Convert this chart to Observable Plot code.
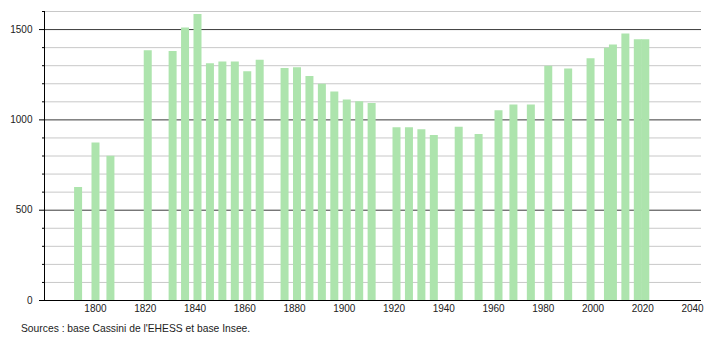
<!DOCTYPE html>
<html>
<head>
<meta charset="utf-8">
<script src="https://cdn.jsdelivr.net/npm/d3@7"></script>
<script src="https://cdn.jsdelivr.net/npm/@observablehq/plot@0.6"></script>
<style>
  html, body { margin: 0; padding: 0; background: #fff; }
  #wrap { position: relative; width: 710px; height: 340px; font-family: "Liberation Sans", Arial, sans-serif; }
  #caption { position: absolute; left: 21px; top: 323px; font-size: 10.3px; color: #222; white-space: nowrap; }
</style>
</head>
<body>
<div id="wrap"><div id="chart"></div><div id="caption">Sources : base Cassini de l'EHESS et base Insee.</div></div>
<script>
const years = [1793, 1800, 1806, 1821, 1831, 1836, 1841, 1846, 1851, 1856, 1861, 1866,
  1876, 1881, 1886, 1891, 1896, 1901, 1906, 1911, 1921, 1926, 1931, 1936, 1946, 1954,
  1962, 1968, 1975, 1982, 1990, 1999, 2006, 2008, 2013, 2018, 2021];
const population = [625, 872, 799, 1383, 1378, 1509, 1583, 1311, 1320, 1320, 1267, 1330,
  1284, 1288, 1240, 1197, 1155, 1110, 1101, 1090, 957, 957, 946, 913, 959, 919,
  1051, 1083, 1083, 1297, 1282, 1339, 1396, 1414, 1476, 1444, 1444];
const xTicks = [1800, 1820, 1840, 1860, 1880, 1900, 1920, 1940, 1960, 1980, 2000, 2020, 2040];
const yMajor = [0, 500, 1000, 1500];
const yMinor = [100, 200, 300, 400, 600, 700, 800, 900, 1100, 1200, 1300, 1400, 1600];
const xDomain = [1779.5, 2043.6];
const yDomain = [0, 1600];

const data = years.map((y, i) => ({year: y, pop: population[i]}));

const chart = Plot.plot({
  width: 710,
  height: 318,
  marginLeft: 44,
  marginRight: 9,
  marginTop: 11,
  marginBottom: 18,
  style: {fontFamily: "'Liberation Sans', Arial, sans-serif", fontSize: "10px", color: "#222", background: "#fff"},
  x: {domain: xDomain, label: null},
  y: {domain: yDomain, label: null},
  marks: [
    Plot.ruleY(yMinor, {stroke: "#c8c8c8", strokeWidth: 1}),
    Plot.ruleY(yMajor.filter(d => d > 0), {stroke: "#3a3a3a", strokeWidth: 1}),
    Plot.ruleX(data, {x: "year", y1: 0, y2: "pop", stroke: "#ade4ad", strokeWidth: 8}),
    Plot.ruleY([0], {stroke: "#000", strokeWidth: 1}),
    Plot.ruleX([xDomain[0]], {stroke: "#000", strokeWidth: 1}),
    Plot.axisY(yMinor, {tickSize: 2, text: null, stroke: "#000"}),
    Plot.axisY(yMajor, {tickSize: 5, tickPadding: 7, stroke: "#000", fill: "#222", tickFormat: d => String(d)}),
    Plot.axisX(xTicks, {tickSize: 0, tickPadding: 4, fill: "#222", tickFormat: d => String(d)})
  ]
});
document.getElementById("chart").appendChild(chart);
</script>
</body>
</html>
